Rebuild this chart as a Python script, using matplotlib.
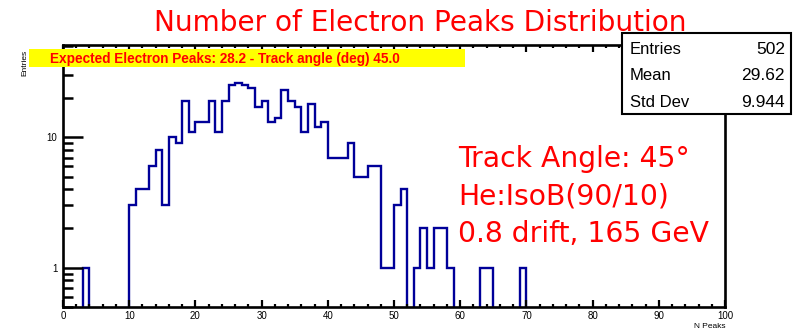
import numpy as np
import matplotlib
matplotlib.use("Agg")
import matplotlib.pyplot as plt
from matplotlib.patches import Rectangle
from matplotlib.ticker import LogLocator, MultipleLocator, FixedLocator, NullFormatter

# peak-count histogram, 100 bins of width 1 from 0 to 100
bin_edges = np.arange(0, 101)
filled_bins = [3, 10, 11, 12, 13, 14, 15, 16, 17, 18, 19, 20, 21, 22, 23, 24,
               25, 26, 27, 28, 29, 30, 31, 32, 33, 34, 35, 36, 37, 38, 39, 40,
               41, 42, 43, 44, 45, 46, 47, 48, 49, 50, 51, 53, 54, 55, 56, 57,
               58, 63, 64, 69]
filled_counts = [1, 3, 4, 4, 6, 8, 3, 10, 9, 19, 11, 13, 13, 19, 11, 19,
                 25, 26, 25, 24, 17, 19, 13, 14, 23, 19, 17, 11, 18, 12, 13, 7,
                 7, 7, 9, 5, 5, 6, 6, 1, 1, 3, 4, 1, 2, 1, 2, 2,
                 1, 1, 1, 1]

n_entries = 502
mean_val = 29.62
std_val = 9.944

title = "Number of Electron Peaks Distribution"
banner = "Expected Electron Peaks: 28.2 - Track angle (deg) 45.0"
info_lines = ["Track Angle: 45\u00b0", "He:IsoB(90/10)", "0.8 drift, 165 GeV"]

counts = np.zeros(len(bin_edges) - 1)
counts[filled_bins] = filled_counts

W, H = 796, 332
narrow = ["Liberation Sans", "DejaVu Sans"]

def fx(px):
    return px / W

def fy(py):
    return 1 - py / H

fig = plt.figure(figsize=(W / 100, H / 100), dpi=100)
ax = fig.add_axes([fx(63), fy(307), fx(725) - fx(63), fy(45) - fy(307)])

# empty bins sit below the log axis floor
draw_counts = np.where(counts > 0, counts, 1e-3)
ax.stairs(draw_counts, bin_edges, baseline=None, color="#000099", lw=1.7)

ax.set_yscale("log")
ax.set_xlim(0, 100)
ax.set_ylim(0.5, 51)

ax.xaxis.set_major_locator(MultipleLocator(10))
ax.xaxis.set_minor_locator(MultipleLocator(2))
ax.yaxis.set_major_locator(FixedLocator([1, 10]))
ax.yaxis.set_minor_locator(LogLocator(base=10, subs=np.arange(2, 10)))
ax.yaxis.set_minor_formatter(NullFormatter())
ax.set_yticklabels(["1", "10"])

for s in ax.spines.values():
    s.set_linewidth(1.9)
ax.tick_params(axis="x", which="both", direction="in", top=True, width=1.6,
               pad=3, labelsize=7)
ax.tick_params(axis="x", which="major", length=4.7)
ax.tick_params(axis="x", which="minor", length=2.4)
ax.tick_params(axis="y", which="both", direction="in", right=False, width=1.8,
               pad=4, labelsize=7)
ax.tick_params(axis="y", which="major", length=14.4)
ax.tick_params(axis="y", which="minor", length=7.2)
for lab in ax.get_xticklabels() + ax.get_yticklabels():
    lab.set_family(narrow)

fig.text(fx(725), fy(326), "N Peaks", ha="right", va="center",
         fontsize=6, family=narrow)
fig.text(fx(25), fy(63), "Entries", ha="center", va="center", rotation=90,
         fontsize=6, family=narrow)

# title and red annotations
fig.text(fx(420), fy(30.7), title, ha="center", va="baseline",
         fontsize=20.2, color="red", family="DejaVu Sans")
for i, line in enumerate(info_lines):
    fig.text(fx(458), fy(166.7 + 37.7 * i), line, ha="left", va="baseline",
             fontsize=20.3, color="red", family="DejaVu Sans")

# yellow banner across the top of the frame
fig.patches.append(Rectangle((fx(29), fy(67)), fx(465) - fx(29), fy(49) - fy(67),
                             transform=fig.transFigure, facecolor="#ffff00",
                             edgecolor="none", zorder=5))
fig.text(fx(50), fy(63), banner, ha="left", va="baseline", fontsize=9.8,
         fontweight="bold", color="red", family=narrow, zorder=6)

# stats box
fig.patches.append(Rectangle((fx(622), fy(114)), fx(791) - fx(622), fy(33) - fy(114),
                             transform=fig.transFigure, facecolor="white",
                             edgecolor="black", lw=1.5, zorder=5))
stats = [("Entries", f"{n_entries}"), ("Mean", f"{mean_val:.2f}"),
         ("Std Dev", f"{std_val:.3f}")]
for i, (name, val) in enumerate(stats):
    y = fy(49.5 + 26.5 * i)
    fig.text(fx(630), y, name, ha="left", va="center", fontsize=12,
             family=narrow, zorder=6)
    fig.text(fx(785), y, val, ha="right", va="center", fontsize=12.5,
             family=narrow, zorder=6)

fig.savefig("out.png", dpi=100)
